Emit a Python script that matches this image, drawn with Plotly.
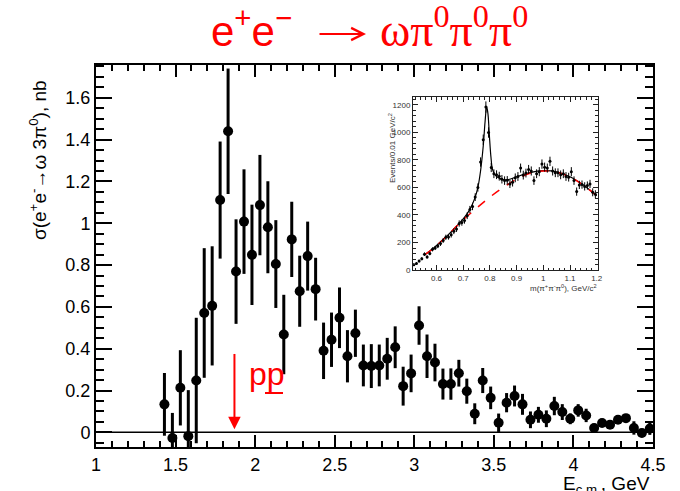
import plotly.graph_objects as go

# ---------------- main data: sigma(e+e- -> omega 3pi0) ----------------
energy = [1.43, 1.48, 1.53, 1.58, 1.63, 1.68, 1.73, 1.78, 1.83, 1.88,
          1.93, 1.98, 2.03, 2.08, 2.13, 2.18, 2.23, 2.28, 2.33, 2.38,
          2.43, 2.48, 2.53, 2.58, 2.63, 2.68, 2.73, 2.78, 2.83, 2.88,
          2.93, 2.98, 3.03, 3.08, 3.13, 3.18, 3.23, 3.28, 3.33, 3.38,
          3.43, 3.48, 3.53, 3.58, 3.63, 3.68, 3.73, 3.78, 3.83, 3.88,
          3.93, 3.98, 4.03, 4.08, 4.13, 4.18, 4.23, 4.28, 4.33, 4.38,
          4.43, 4.48]
sigma = [0.134, -0.027, 0.213, -0.018, 0.248, 0.571, 0.605, 1.111, 1.440, 0.769,
         1.008, 0.849, 1.087, 0.981, 0.805, 0.468, 0.923, 0.675, 0.843, 0.685,
         0.390, 0.443, 0.548, 0.364, 0.474, 0.320, 0.317, 0.320, 0.352, 0.407,
         0.221, 0.282, 0.511, 0.364, 0.334, 0.231, 0.231, 0.283, 0.197, 0.089,
         0.248, 0.165, 0.046, 0.142, 0.174, 0.134, 0.060, 0.084, 0.065, 0.126,
         0.097, 0.065, 0.105, 0.081, 0.021, 0.045, 0.037, 0.060, 0.068, 0.021,
         -0.003, 0.018]
sigma_err = [0.150, 0.120, 0.180, 0.220, 0.300, 0.310, 0.285, 0.280, 0.300, 0.250,
             0.250, 0.240, 0.240, 0.220, 0.210, 0.190, 0.180, 0.170, 0.165, 0.150,
             0.135, 0.130, 0.145, 0.125, 0.113, 0.100, 0.105, 0.100, 0.100, 0.100,
             0.093, 0.090, 0.092, 0.104, 0.090, 0.074, 0.075, 0.064, 0.060, 0.050,
             0.060, 0.054, 0.044, 0.046, 0.050, 0.050, 0.040, 0.038, 0.040, 0.044,
             0.038, 0.026, 0.030, 0.032, 0.020, 0.020, 0.020, 0.020, 0.020, 0.032,
             0.020, 0.030]

# p pbar threshold arrow
pp_threshold = [1.87]
arrow_top = 0.375
arrow_tip = 0.015

# ---------------- inset: m(pi+pi-pi0) spectrum ----------------
inset_mass = [0.515, 0.525, 0.535, 0.545, 0.555, 0.565, 0.575, 0.585, 0.595, 0.605,
              0.615, 0.625, 0.635, 0.645, 0.655, 0.665, 0.675, 0.685, 0.695, 0.705,
              0.715, 0.725, 0.735, 0.745, 0.755, 0.765, 0.775, 0.785, 0.795, 0.805,
              0.815, 0.825, 0.835, 0.845, 0.855, 0.865, 0.875, 0.885, 0.895, 0.905,
              0.915, 0.925, 0.935, 0.945, 0.955, 0.965, 0.975, 0.985, 0.995, 1.005,
              1.015, 1.025, 1.035, 1.045, 1.055, 1.065, 1.075, 1.085, 1.095, 1.105,
              1.115, 1.125, 1.135, 1.145, 1.155, 1.165, 1.175, 1.185, 1.195]
inset_events = [38, 48, 65, 82, 115, 95, 120, 150, 160, 175,
                192, 215, 238, 240, 256, 282, 298, 338, 345, 360,
                395, 440, 462, 530, 600, 785, 948, 1185, 1000, 745,
                700, 693, 682, 660, 650, 652, 626, 638, 670, 680,
                741, 690, 705, 731, 720, 650, 700, 715, 770, 748,
                741, 790, 720, 707, 707, 692, 700, 680, 675, 715,
                650, 570, 619, 621, 608, 614, 626, 565, 551]
inset_err = [8, 9, 10, 11, 13, 12, 13, 15, 15, 16,
             17, 18, 19, 19, 20, 21, 21, 23, 23, 23,
             25, 26, 27, 28, 30, 34, 37, 41, 38, 33,
             32, 32, 32, 31, 31, 31, 30, 31, 32, 32,
             33, 32, 32, 33, 33, 31, 32, 33, 34, 33,
             33, 34, 33, 32, 32, 32, 32, 32, 32, 33,
             31, 30, 30, 30, 30, 30, 30, 29, 29]

fit_mass = [0.555, 0.58, 0.60, 0.625, 0.65, 0.675, 0.70, 0.715, 0.73, 0.745,
            0.755, 0.765, 0.775, 0.782, 0.788, 0.793, 0.798, 0.804, 0.81, 0.82,
            0.835, 0.85, 0.87, 0.90, 0.95, 1.00, 1.05, 1.10, 1.15, 1.20]
fit_total = [110, 145, 178, 222, 268, 318, 372, 410, 460, 530,
             600, 720, 900, 1080, 1190, 1130, 980, 820, 730, 690,
             668, 658, 658, 678, 708, 722, 714, 678, 618, 540]

bkg_mass = [0.555, 0.58, 0.60, 0.625, 0.65, 0.675, 0.70, 0.75, 0.80, 0.85,
            0.90, 0.95, 1.00, 1.05, 1.10, 1.15, 1.20]
bkg_events = [110, 145, 178, 222, 268, 318, 365, 450, 530, 600,
              660, 703, 720, 712, 676, 616, 540]

W, H = 680, 491


def px(x):
    return x / W


def py(y):
    return 1 - y / H


RED = "#ff0000"
SANS = "Liberation Sans"
SERIF = "Liberation Serif"

fig = go.Figure()

# main data
fig.add_trace(go.Scatter(
    x=energy, y=sigma, mode="markers",
    marker=dict(color="black", size=10),
    error_y=dict(type="data", array=sigma_err, thickness=3, width=0, color="black"),
    xaxis="x", yaxis="y", showlegend=False, hoverinfo="skip"))

# threshold arrow
fig.add_trace(go.Scatter(
    x=[pp_threshold[0], pp_threshold[0]], y=[arrow_top, arrow_tip + 0.05],
    mode="lines", line=dict(color=RED, width=2),
    xaxis="x", yaxis="y", showlegend=False, hoverinfo="skip"))
fig.add_trace(go.Scatter(
    x=pp_threshold, y=[arrow_tip], mode="markers",
    marker=dict(symbol="arrow-down", size=12.5, color=RED, line=dict(width=0)),
    xaxis="x", yaxis="y", showlegend=False, hoverinfo="skip"))

# inset traces
fig.add_trace(go.Scatter(
    x=fit_mass, y=fit_total, mode="lines", line=dict(color="black", width=1.2, shape="spline"),
    xaxis="x2", yaxis="y2", showlegend=False, hoverinfo="skip"))
fig.add_trace(go.Scatter(
    x=bkg_mass, y=bkg_events, mode="lines",
    line=dict(color=RED, width=1.5, dash="dash", shape="spline"),
    xaxis="x2", yaxis="y2", showlegend=False, hoverinfo="skip"))
fig.add_trace(go.Scatter(
    x=inset_mass, y=inset_events, mode="markers",
    marker=dict(color="black", size=3),
    error_y=dict(type="data", array=inset_err, thickness=1, width=0, color="black"),
    xaxis="x2", yaxis="y2", showlegend=False, hoverinfo="skip"))

common = dict(showgrid=False, zeroline=False, automargin=False, mirror="ticks", showline=True)

main_x = dict(
    domain=[px(96), px(653)], range=[1, 4.5], anchor="y",
    tick0=1, dtick=0.5, ticks="inside", ticklen=12, tickwidth=1.5, tickcolor="black",
    minor=dict(dtick=0.1, ticks="inside", ticklen=6, tickwidth=1.5, tickcolor="black"),
    linewidth=2, linecolor="black",
    tickfont=dict(family=SANS, size=18, color="black"), **common)
main_y = dict(
    domain=[py(447), py(65)], range=[-0.07, 1.757], anchor="x",
    tick0=0, dtick=0.2, ticks="inside", ticklen=16, tickwidth=1.5, tickcolor="black",
    minor=dict(dtick=0.05, ticks="inside", ticklen=8, tickwidth=1.5, tickcolor="black"),
    linewidth=2, linecolor="black",
    tickfont=dict(family=SANS, size=18, color="black"), **common)
inset_x = dict(
    domain=[px(413), px(597.5)], range=[0.512, 1.203], anchor="y2",
    tick0=0, dtick=0.1, ticks="inside", ticklen=5, tickwidth=1, tickcolor="#222",
    minor=dict(dtick=0.02, ticks="inside", ticklen=2.5, tickwidth=1, tickcolor="#222"),
    linewidth=1, linecolor="#222",
    tickfont=dict(family=SANS, size=8, color="#333"), **common)
inset_y = dict(
    domain=[py(270), py(97)], range=[0, 1258], anchor="x2",
    tick0=0, dtick=200, ticks="inside", ticklen=5, tickwidth=1, tickcolor="#222",
    minor=dict(dtick=40, ticks="inside", ticklen=2.5, tickwidth=1, tickcolor="#222"),
    linewidth=1, linecolor="#222",
    tickfont=dict(family=SANS, size=8, color="#333"), **common)

annotations = [
    # title, in pieces (sans e+e-, drawn arrow, serif omega pi pi pi)
    dict(text="e<sup>+</sup>e<sup>\u2212</sup>", x=px(210), y=py(56), xref="paper", yref="paper",
         xanchor="left", yanchor="bottom", showarrow=False, borderpad=0,
         font=dict(family=SANS, size=42, color=RED)),
    dict(text="", x=px(366), y=py(34), xref="paper", yref="paper",
         showarrow=True, ax=-48, ay=0, arrowhead=5, arrowsize=1.2, arrowwidth=2,
         arrowcolor=RED, standoff=0, startstandoff=0),
    dict(text="\u03c9\u03c0<sup>0</sup>\u03c0<sup>0</sup>\u03c0<sup>0</sup>", x=px(379), y=py(57),
         xref="paper", yref="paper",
         xanchor="left", yanchor="bottom", showarrow=False, borderpad=0,
         font=dict(family=SERIF, size=46, color=RED)),
    dict(text="\u03c3(e<sup>+</sup>e<sup>-</sup>\u2192\u03c9 3\u03c0<sup>0</sup>), nb",
         x=px(38), y=py(160), xref="paper", yref="paper", textangle=-90,
         xanchor="center", yanchor="middle", showarrow=False,
         font=dict(family=SANS, size=19, color="black")),
    dict(text="E<sub>c.m.</sub>, GeV", x=px(652), y=py(471), xref="paper", yref="paper",
         xanchor="right", yanchor="top", showarrow=False,
         font=dict(family=SANS, size=19, color="black")),
    dict(text="pp", x=px(247), y=py(374), xref="paper", yref="paper",
         xanchor="left", yanchor="middle", showarrow=False,
         font=dict(family=SANS, size=32, color=RED)),
    dict(text="Events/0.01 GeV/c<sup>2</sup>", x=px(392), y=py(148), xref="paper", yref="paper",
         textangle=-90, xanchor="center", yanchor="middle", showarrow=False,
         font=dict(family=SANS, size=8, color="#333")),
    dict(text="m(\u03c0<sup>+</sup>\u03c0<sup>-</sup>\u03c0<sup>0</sup>), GeV/c<sup>2</sup>",
         x=px(599), y=py(288), xref="paper", yref="paper",
         xanchor="right", yanchor="middle", showarrow=False,
         font=dict(family=SANS, size=8, color="#333")),
]

shapes = [
    dict(type="line", xref="x", yref="y", x0=1, x1=4.5, y0=0, y1=0,
         line=dict(color="black", width=1.5), layer="below"),
    dict(type="line", xref="paper", yref="paper", x0=px(265), x1=px(283), y0=py(393), y1=py(393),
         line=dict(color=RED, width=2)),
]

fig.update_layout(
    width=W, height=H, margin=dict(l=0, r=0, t=0, b=0, pad=0), autosize=False,
    paper_bgcolor="white", plot_bgcolor="white", showlegend=False,
    font=dict(family=SANS, color="black"),
    xaxis=main_x, yaxis=main_y, xaxis2=inset_x, yaxis2=inset_y,
    annotations=annotations, shapes=shapes)

fig.write_html("out.html")
